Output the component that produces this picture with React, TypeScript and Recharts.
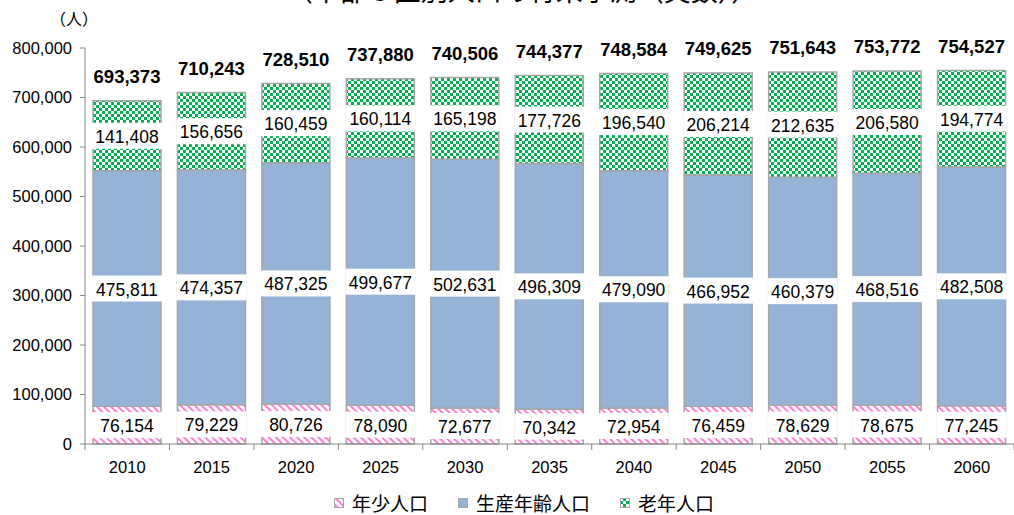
import { BarChart, Bar, XAxis, YAxis, Legend, LabelList } from 'recharts';

const YEARS = ['2010', '2015', '2020', '2025', '2030', '2035', '2040', '2045', '2050', '2055', '2060'];
const YOUTH = [76154, 79229, 80726, 78090, 72677, 70342, 72954, 76459, 78629, 78675, 77245];
const WORKING = [475811, 474357, 487325, 499677, 502631, 496309, 479090, 466952, 460379, 468516, 482508];
const ELDERLY = [141408, 156656, 160459, 160114, 165198, 177726, 196540, 206214, 212635, 206580, 194774];
const TOTALS = [693373, 710243, 728510, 737880, 740506, 744377, 748584, 749625, 751643, 753772, 754527];
const Y_TICKS = [0, 100000, 200000, 300000, 400000, 500000, 600000, 700000, 800000];

const SERIES = [
  { key: 'youth', name: '年少人口', fill: 'url(#pat-youth)' },
  { key: 'working', name: '生産年齢人口', fill: '#95B3D7' },
  { key: 'elderly', name: '老年人口', fill: 'url(#pat-elderly)' },
];

const data = YEARS.map((year, i) => ({
  year,
  youth: YOUTH[i],
  working: WORKING[i],
  elderly: ELDERLY[i],
  total: TOTALS[i],
}));

const NUM_FONT = '"Liberation Sans", Arial, sans-serif';
const JP_FONT = '"Noto Sans CJK JP", sans-serif';
const W = 1014;
const H = 515;
const AXIS_W = 85;
const BAND = (W - AXIS_W) / YEARS.length;

const fmt = (v: number) => v.toLocaleString('en-US');

function BoxLabel(props: any) {
  const { x, y, width, height, value } = props;
  const cy = y + height / 2;
  return (
    <g>
      <rect x={x - 1} y={cy - 13} width={width + 2} height={26} fill="#fff" />
      <text
        x={x + width / 2}
        y={cy + 1}
        textAnchor="middle"
        dominantBaseline="central"
        fontSize={17.5}
        fontFamily={NUM_FONT}
        fill="#000"
      >
        {fmt(value)}
      </text>
    </g>
  );
}

function TotalLabel(props: any) {
  const { x, y, width, value } = props;
  return (
    <text
      x={x + width / 2}
      y={y - 24}
      textAnchor="middle"
      dominantBaseline="central"
      fontSize={18.5}
      fontWeight="bold"
      fontFamily={NUM_FONT}
      fill="#000"
    >
      {fmt(value)}
    </text>
  );
}

function YearTick(props: any) {
  const { x, y, payload, index } = props;
  const left = x - BAND / 2;
  return (
    <g>
      <line x1={left} y1={y} x2={left} y2={y + 6} stroke="#868686" />
      {index === YEARS.length - 1 && (
        <line x1={x + BAND / 2} y1={y} x2={x + BAND / 2} y2={y + 6} stroke="#868686" />
      )}
      <text
        x={x}
        y={y + 23}
        textAnchor="middle"
        dominantBaseline="central"
        fontSize={16.5}
        fontFamily={NUM_FONT}
        fill="#000"
      >
        {payload.value}
      </text>
    </g>
  );
}

function LegendContent() {
  return (
    <div
      style={{
        height: 41,
        display: 'flex',
        justifyContent: 'center',
        alignItems: 'flex-start',
        paddingTop: 18,
        paddingLeft: 34,
        boxSizing: 'border-box',
        fontFamily: JP_FONT,
        fontSize: 19,
        color: '#000',
      }}
    >
      {SERIES.map((s) => (
        <div key={s.key} style={{ display: 'flex', alignItems: 'center', margin: '0 15px', lineHeight: '22px' }}>
          <svg width={10} height={10} style={{ marginRight: 8 }}>
            <rect x={0.5} y={0.5} width={9} height={9} fill={s.fill} stroke="#A6A6A6" />
          </svg>
          <span>{s.name}</span>
        </div>
      ))}
    </div>
  );
}

export default function App() {
  return (
    <div style={{ position: 'absolute', left: 0, top: 0, width: W, height: H, background: '#fff', overflow: 'hidden' }}>
      <div
        style={{
          position: 'absolute',
          left: 0,
          width: W + 30,
          top: -26,
          textAlign: 'center',
          fontFamily: JP_FONT,
          fontSize: 27,
          lineHeight: '32px',
          color: '#000',
        }}
      >
        （中部５区別人口の将来予測（実数））
      </div>
      <div
        style={{
          position: 'absolute',
          left: 50,
          top: 7,
          fontFamily: JP_FONT,
          fontSize: 16,
          lineHeight: '22px',
          color: '#000',
        }}
      >
        （人）
      </div>
      <BarChart
        width={W}
        height={H}
        data={data}
        margin={{ top: 48, right: 0, left: 0, bottom: 0 }}
        barSize={68}
      >
        <defs>
          <pattern id="pat-youth" patternUnits="userSpaceOnUse" width={5} height={5} patternTransform="rotate(-45)">
            <rect width={5} height={5} fill="#fff" />
            <rect width={1.8} height={5} fill="#FF6FD0" />
          </pattern>
          <pattern id="pat-elderly" patternUnits="userSpaceOnUse" width={6} height={6}>
            <rect width={6} height={6} fill="#00B050" />
            <rect x={0} y={0} width={3} height={3} fill="#fff" />
            <rect x={3} y={3} width={3} height={3} fill="#fff" />
          </pattern>
        </defs>
        <XAxis
          dataKey="year"
          height={30}
          tickLine={false}
          tickSize={0}
          tickMargin={0}
          axisLine={{ stroke: '#868686' }}
          tick={<YearTick />}
          interval={0}
        />
        <YAxis
          width={AXIS_W}
          domain={[0, 800000]}
          ticks={Y_TICKS}
          tickFormatter={fmt}
          axisLine={{ stroke: '#868686' }}
          tickLine={{ stroke: '#868686' }}
          tickSize={5}
          tickMargin={8}
          tick={{ fontSize: 16.5, fill: '#000', fontFamily: NUM_FONT }}
          interval={0}
        />
        <Legend verticalAlign="bottom" height={41} content={<LegendContent />} />
        <Bar dataKey="youth" name="年少人口" stackId="a" fill="url(#pat-youth)" stroke="#A6A6A6" strokeWidth={1.5} isAnimationActive={false}>
          <LabelList dataKey="youth" content={<BoxLabel />} />
        </Bar>
        <Bar dataKey="working" name="生産年齢人口" stackId="a" fill="#95B3D7" stroke="#A6A6A6" strokeWidth={1.5} isAnimationActive={false}>
          <LabelList dataKey="working" content={<BoxLabel />} />
        </Bar>
        <Bar dataKey="elderly" name="老年人口" stackId="a" fill="url(#pat-elderly)" stroke="#A6A6A6" strokeWidth={1.5} isAnimationActive={false}>
          <LabelList dataKey="elderly" content={<BoxLabel />} />
          <LabelList dataKey="total" content={<TotalLabel />} />
        </Bar>
      </BarChart>
    </div>
  );
}
